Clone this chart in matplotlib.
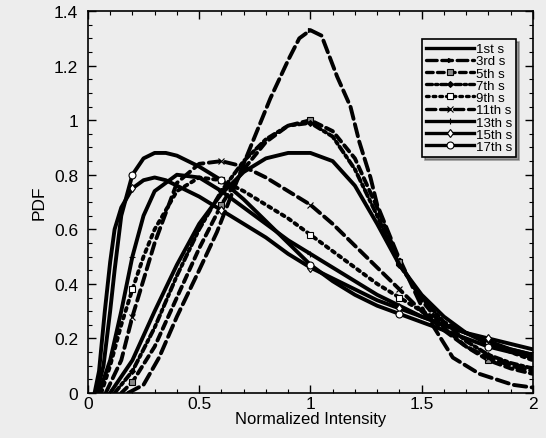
"""
Intensity PDF evolution plot
PDF of normalized intensity for successive seconds (1st .. 17th s)
"""

import numpy as np
import matplotlib
matplotlib.use("Agg")
import matplotlib.pyplot as plt
from matplotlib.ticker import MultipleLocator, FuncFormatter

# ── Curves: normalized intensity (x) and PDF (y) ─────────────────────────────
X_1ST = [0.1, 0.2, 0.3, 0.4, 0.5, 0.6, 0.7, 0.8, 0.9, 1.0, 1.1, 1.2, 1.3, 1.4, 1.5, 1.6, 1.7, 1.8, 1.9, 2.0]
Y_1ST = [0.0, 0.12, 0.30, 0.47, 0.62, 0.73, 0.81, 0.86, 0.88, 0.88, 0.85, 0.76, 0.62, 0.47, 0.36, 0.28, 0.22, 0.18, 0.16, 0.14]

X_3RD = [0.18, 0.25, 0.32, 0.4, 0.5, 0.58, 0.7, 0.77, 0.82, 0.9, 0.95, 1.0, 1.05, 1.12, 1.18, 1.22, 1.27, 1.3, 1.39, 1.51, 1.64, 1.76, 1.91, 2.0]
Y_3RD = [0.0, 0.03, 0.13, 0.28, 0.45, 0.59, 0.84, 0.98, 1.08, 1.22, 1.30, 1.33, 1.31, 1.16, 1.05, 0.92, 0.79, 0.69, 0.51, 0.30, 0.13, 0.07, 0.03, 0.02]

X_5TH = [0.15, 0.2, 0.3, 0.4, 0.5, 0.6, 0.7, 0.8, 0.9, 1.0, 1.1, 1.2, 1.3, 1.4, 1.5, 1.6, 1.7, 1.8, 1.9, 2.0]
Y_5TH = [0.0, 0.04, 0.17, 0.35, 0.53, 0.69, 0.82, 0.92, 0.98, 1.0, 0.96, 0.86, 0.68, 0.48, 0.34, 0.24, 0.17, 0.12, 0.09, 0.07]

X_7TH = [0.12, 0.2, 0.3, 0.4, 0.5, 0.6, 0.7, 0.8, 0.9, 1.0, 1.1, 1.2, 1.3, 1.4, 1.5, 1.6, 1.7, 1.8, 1.9, 2.0]
Y_7TH = [0.0, 0.08, 0.24, 0.43, 0.60, 0.74, 0.85, 0.93, 0.98, 0.99, 0.94, 0.82, 0.65, 0.47, 0.35, 0.26, 0.19, 0.14, 0.11, 0.09]

X_9TH = [0.06, 0.1, 0.15, 0.2, 0.25, 0.3, 0.4, 0.5, 0.6, 0.7, 0.8, 0.9, 1.0, 1.1, 1.2, 1.3, 1.4, 1.5, 1.6, 1.7, 1.8, 1.9, 2.0]
Y_9TH = [0.0, 0.10, 0.25, 0.38, 0.50, 0.60, 0.74, 0.79, 0.78, 0.74, 0.69, 0.64, 0.58, 0.52, 0.46, 0.40, 0.35, 0.30, 0.26, 0.22, 0.19, 0.15, 0.12]

X_11TH = [0.08, 0.15, 0.2, 0.3, 0.4, 0.5, 0.6, 0.7, 0.8, 0.9, 1.0, 1.1, 1.2, 1.3, 1.4, 1.5, 1.6, 1.7, 1.8, 1.9, 2.0]
Y_11TH = [0.0, 0.12, 0.28, 0.55, 0.77, 0.84, 0.85, 0.83, 0.79, 0.74, 0.69, 0.62, 0.54, 0.46, 0.38, 0.30, 0.23, 0.17, 0.13, 0.10, 0.08]

X_13TH = [0.05, 0.1, 0.15, 0.2, 0.25, 0.3, 0.4, 0.5, 0.6, 0.7, 0.8, 0.9, 1.0, 1.1, 1.2, 1.3, 1.4, 1.5, 1.6, 1.7, 1.8, 1.9, 2.0]
Y_13TH = [0.0, 0.12, 0.30, 0.50, 0.65, 0.74, 0.80, 0.79, 0.74, 0.68, 0.62, 0.56, 0.51, 0.46, 0.41, 0.36, 0.32, 0.28, 0.25, 0.22, 0.19, 0.16, 0.14]

X_15TH = [0.03, 0.05, 0.076, 0.1, 0.12, 0.15, 0.2, 0.25, 0.3, 0.35, 0.4, 0.5, 0.6, 0.7, 0.8, 0.9, 1.0, 1.1, 1.2, 1.3, 1.4, 1.5, 1.6, 1.7, 1.8, 1.9, 2.0]
Y_15TH = [0.0, 0.08, 0.30, 0.48, 0.60, 0.68, 0.75, 0.78, 0.79, 0.78, 0.76, 0.72, 0.67, 0.62, 0.57, 0.51, 0.46, 0.42, 0.38, 0.34, 0.31, 0.28, 0.25, 0.22, 0.20, 0.18, 0.16]

X_17TH = [0.04, 0.07, 0.1, 0.12, 0.15, 0.2, 0.25, 0.3, 0.35, 0.4, 0.5, 0.6, 0.7, 0.8, 0.9, 1.0, 1.1, 1.2, 1.3, 1.4, 1.5, 1.6, 1.7, 1.8, 1.9, 2.0]
Y_17TH = [0.0, 0.10, 0.30, 0.45, 0.65, 0.80, 0.86, 0.88, 0.88, 0.87, 0.83, 0.78, 0.71, 0.63, 0.55, 0.47, 0.41, 0.36, 0.32, 0.29, 0.26, 0.23, 0.20, 0.17, 0.15, 0.13]

LABELS = ["1st s", "3rd s", "5th s", "7th s", "9th s", "11th s", "13th s", "15th s", "17th s"]

# intensities where the symbols sit on each curve
MARK_X = [0.2, 0.6, 1.0, 1.4, 1.8]

BG = "#ededed"
LW = 2.8

# (x, y, linestyle, marker, marker face, marker size)
STYLES = [
    (X_1ST,  Y_1ST,  "-",                        "None", "black", 0),
    (X_3RD,  Y_3RD,  (0, (3.2, 1.4)),            ">",    "black", 3),
    (X_5TH,  Y_5TH,  (0, (2.0, 1.3)),            "s",    "#888888", 4),
    (X_7TH,  Y_7TH,  (0, (1.8, 0.9, 0.7, 0.9)),  "D",    "black", 3),
    (X_9TH,  Y_9TH,  (0, (0.8, 1.2)),            "s",    "white", 4.5),
    (X_11TH, Y_11TH, (0, (2.8, 1.4)),            "x",    "white", 4.5),
    (X_13TH, Y_13TH, "-",                        "+",    "white", 4.5),
    (X_15TH, Y_15TH, "-",                        "d",    "white", 4.5),
    (X_17TH, Y_17TH, "-",                        "o",    "white", 5),
]


def mark_indices(xs):
    xs = np.round(np.asarray(xs, dtype=float), 3)
    return [i for i, v in enumerate(xs) if v in MARK_X]


def main():
    plt.rcParams["font.family"] = ["Liberation Sans", "DejaVu Sans"]

    fig = plt.figure(figsize=(5.46, 4.39), dpi=100, facecolor=BG)
    ax = fig.add_axes([0.161, 0.1025, 0.815, 0.870], facecolor=BG)

    for (xs, ys, ls, mk, mfc, ms), label in zip(STYLES, LABELS):
        ax.plot(xs, ys, color="black", linewidth=LW, linestyle=ls,
                marker=mk, markersize=ms, markerfacecolor=mfc,
                markeredgecolor="black", markeredgewidth=0.8,
                markevery=mark_indices(xs), dash_capstyle="round",
                label=label)

    ax.set_xlim(0, 2)
    ax.set_ylim(0, 1.4)
    ax.xaxis.set_major_locator(MultipleLocator(0.5))
    ax.xaxis.set_minor_locator(MultipleLocator(0.1))
    ax.yaxis.set_major_locator(MultipleLocator(0.2))
    ax.yaxis.set_minor_locator(MultipleLocator(0.05))
    ax.xaxis.set_major_formatter(FuncFormatter(lambda v, p: f"{v:g}"))
    ax.yaxis.set_major_formatter(FuncFormatter(lambda v, p: f"{v:g}"))

    ax.tick_params(which="both", direction="in", top=True, right=True,
                   labelsize=12.5)
    ax.tick_params(axis="y", pad=7)
    ax.tick_params(axis="x", pad=2)
    ax.tick_params(which="major", length=6, width=1)
    ax.tick_params(which="minor", length=3, width=0.8)
    for sp in ax.spines.values():
        sp.set_linewidth(1.2)

    ax.set_xlabel("Normalized Intensity", fontsize=12, labelpad=0)
    ax.set_ylabel("PDF", fontsize=12.5, labelpad=5)

    leg = ax.legend(loc="upper right", bbox_to_anchor=(0.962, 0.927),
                    fontsize=9.5, frameon=True, fancybox=False, shadow=True,
                    handlelength=3.6, handletextpad=0.15, labelspacing=0.0,
                    borderpad=0.3, borderaxespad=0)
    leg.get_frame().set_edgecolor("black")
    leg.get_frame().set_facecolor(BG)
    leg.get_frame().set_linewidth(1.2)
    for h in leg.get_lines():
        h.set_linewidth(2.4)

    plt.savefig("out.png", dpi=100, facecolor=BG)


if __name__ == "__main__":
    main()
